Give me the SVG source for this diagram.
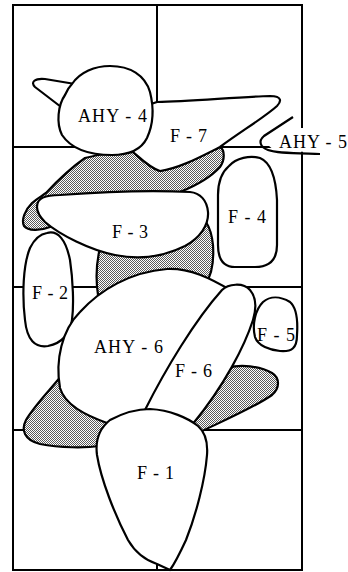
<svg xmlns="http://www.w3.org/2000/svg" width="348" height="572" viewBox="0 0 348 572">
<defs>
<pattern id="dots" width="2" height="2" patternUnits="userSpaceOnUse">
<rect width="2" height="2" fill="#fff"/>
<rect x="0" y="0" width="1" height="1" fill="#5a5a5a"/>
<rect x="1" y="1" width="1" height="1" fill="#5a5a5a"/>
</pattern>
<style>
.grid{fill:none;stroke:#000;stroke-width:2}
.w{fill:#fff;stroke:#000;stroke-width:2.2;stroke-linejoin:round}
.g{fill:url(#dots);stroke:#000;stroke-width:2.2;stroke-linejoin:round}
.t{font-family:"Liberation Serif","Times New Roman",serif;font-size:18px;fill:#000}
</style>
</defs>
<rect width="348" height="572" fill="#fff"/>
<g id="grid" class="grid">
<rect x="13" y="5" width="289" height="565"/>
<line x1="157" y1="5" x2="157" y2="570"/>
<line x1="13" y1="147" x2="302" y2="147"/>
<line x1="13" y1="287" x2="302" y2="287"/>
<line x1="13" y1="430" x2="302" y2="430"/>
</g>
<g id="AHY-5">
<polygon points="262,140 280,128 348,128 348,153 275,151" fill="#fff"/>
<path d="M293,117 L264,136 C258,141 260,147 268,150 C276,153 290,153 320,154" fill="none" stroke="#000" stroke-width="2.2"/>
<text class="t" x="279" y="148" textLength="68">AHY - 5</text>
</g>
<g id="shade-1"><path class="g" d="M133,152 C140,158 150,168 160,171 C180,168 200,157 220,147 C225,150 225,160 220,167 C210,178 195,186 180,192 L120,200 L50,227 C40,231 28,231 24,226 C21,220 25,210 32,203 C38,198 42,196 46,193 C60,178 75,165 85,158 C100,154 120,152 133,152 Z"/></g>
<g id="shade-2"><path class="g" d="M100,248 C97,260 95,275 98,295 L205,285 C212,275 214,260 213,245 C212,235 210,228 206,222 Z"/></g>
<g id="shade-3"><path class="g" d="M62,375 C50,390 35,405 26,420 C21,430 24,440 40,444 C60,448 85,448 100,446 L118,420 Z"/></g>
<g id="shade-4"><path class="g" d="M228,368 C240,364 260,366 272,373 C280,378 280,388 272,395 C255,407 225,420 200,432 L190,425 Z"/></g>
<g id="F-7">
<path class="w" d="M148,105 L157,102 C190,101 240,97 270,96 C283,96 281,102 277,106 C265,117 240,132 220,147 C200,157 180,168 160,171 C150,168 140,158 133,152 Z"/>
<text class="t" x="170" y="142" textLength="37">F - 7</text>
</g>
<g id="AHY-4">
<path class="w" d="M75,84 L45,79 C35,78 30,82 35,87 L65,110 Z"/>
<path class="w" d="M72,84 C80,72 95,66 110,66 C130,66 145,75 150,92 C154,108 153,125 147,138 C141,150 128,155 112,155 C92,155 72,150 62,135 C56,123 58,105 65,95 C67,90 69,87 72,84 Z"/>
<text class="t" x="78" y="122" textLength="69">AHY - 4</text>
</g>
<g id="F-3">
<path class="w" d="M37,207 C37,198 45,195 60,195 C100,192 150,190 190,192 C200,193 207,200 208,212 C209,225 200,238 185,246 C165,256 140,260 115,255 C90,250 60,235 45,222 C40,217 37,212 37,207 Z"/>
<text class="t" x="112" y="238" textLength="36">F - 3</text>
</g>
<g id="F-4">
<path class="w" d="M229,166 C236,158 250,155 260,158 C272,163 276,180 277,200 L277,245 C277,260 270,267 255,267 L235,267 C222,267 218,258 218,245 L218,195 C218,180 222,172 229,166 Z"/>
<text class="t" x="228" y="223" textLength="38">F - 4</text>
</g>
<g id="F-2">
<path class="w" d="M47,233 C58,230 66,240 70,260 C73,280 74,305 72,320 C70,335 62,343 48,346 C35,348 27,340 25,320 C22,295 23,265 30,248 C35,238 40,234 47,233 Z"/>
<text class="t" x="32" y="299" textLength="36">F - 2</text>
</g>
<g id="F-5">
<path class="w" d="M263,302 C270,296 280,296 290,302 C297,308 298,320 297,335 C297,348 292,352 280,351 C270,350 258,346 255,337 C252,325 255,310 263,302 Z"/>
<text class="t" x="257" y="341" textLength="38">F - 5</text>
</g>
<g id="AHY-6">
<path class="w" d="M107,423 C85,415 65,405 60,388 C55,360 62,330 80,312 C100,290 130,272 167,269 C190,268 210,278 232,291 L185,415 L150,425 Z"/>
<text class="t" x="94" y="353" textLength="69">AHY - 6</text>
</g>
<g id="F-6">
<path class="w" d="M145,410 C165,370 195,320 222,290 C228,284 243,282 250,290 C257,298 256,310 253,320 C245,345 225,385 192,425 Z"/>
<text class="t" x="175" y="377" textLength="37">F - 6</text>
</g>
<g id="F-1">
<path class="w" d="M110,420 C125,412 138,409 150,409 C170,410 188,418 198,426 C206,433 208,442 207,455 C205,480 196,515 186,540 C180,553 175,563 170,570 L157,564 C145,560 135,552 128,540 C115,515 101,480 97,455 C95,440 100,428 110,420 Z"/>
<text class="t" x="137" y="479" textLength="37">F - 1</text>
</g>
</svg>
